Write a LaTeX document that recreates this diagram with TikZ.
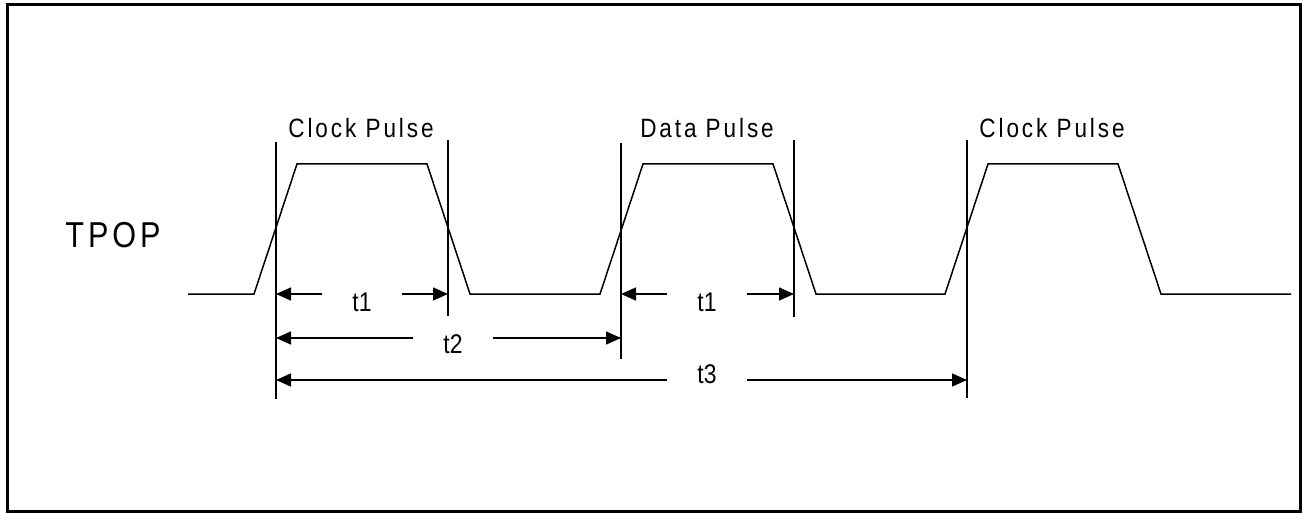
\documentclass[tikz,border=0pt]{standalone}
\usepackage{fontspec}
\setmainfont{Liberation Sans}
\newfontfamily\narrow[FakeStretch=0.85]{Liberation Sans}
\newfontfamily\spaced[FakeStretch=0.85, LetterSpace=11]{Liberation Sans}
\usetikzlibrary{arrows.meta}

\begin{document}
\begin{tikzpicture}[x = 1pt, y = -1pt, line width = 1.5pt,
    pulselabel/.style = { font = \spaced\fontsize{26.5}{30}\selectfont, inner sep = 0 },
    tlabel/.style = { font = \narrow\fontsize{27}{30}\selectfont, minimum width = 78pt, inner sep = 0 },
    dimarrow/.style = { -{Triangle[length = 15pt, width = 13pt]} }]
  \useasboundingbox (0,0) rectangle (1303,513);
  \draw [line width = 3pt] (7.5,4.5) rectangle (1300.5,511.5);

  % signal
  \draw (188,294) -- (254,294) -- (297,164) -- (427,164) -- (470,294)
    -- (600,294) -- (643,164) -- (773,164) -- (816,294)
    -- (945,294) -- (988,164) -- (1118,164) -- (1161,294) -- (1291,294);

  % timing marks
  \foreach \n/\x/\t/\b in {1/276/142/399, 2/448/140/316, 3/621/143/359, 4/794/140/317, 5/967/140/398} {
    \coordinate (top\n) at (\x,\t);
    \coordinate (bot\n) at (\x,\b);
    \draw (top\n) -- (bot\n);
  }
  \coordinate (rowa) at (0,294);
  \coordinate (rowb) at (0,338);
  \coordinate (rowc) at (0,380);

  \node [font = \spaced\fontsize{36}{40}\selectfont, inner sep = 0] (tpop) at (113,235) {TPOP};
  \node [pulselabel] (clka) at (361,128) {Clock Pulse};
  \node [pulselabel] (data) at (707,128) {Data Pulse};
  \node [pulselabel] (clkb) at (1052,128) {Clock Pulse};

  \node [tlabel] (t1a) at (362,302) {t1};
  \node [tlabel] (t1b) at (707,302) {t1};
  \node [tlabel] (t2) at (453,344) {t2};
  \node [tlabel] (t3) at (707,374) {t3};

  \draw [dimarrow] (t1a.west |- rowa) -- (top1 |- rowa);
  \draw [dimarrow] (t1a.east |- rowa) -- (top2 |- rowa);
  \draw [dimarrow] (t1b.west |- rowa) -- (top3 |- rowa);
  \draw [dimarrow] (t1b.east |- rowa) -- (top4 |- rowa);
  \draw [dimarrow] (t2.west |- rowb) -- (top1 |- rowb);
  \draw [dimarrow] (t2.east |- rowb) -- (top3 |- rowb);
  \draw [dimarrow] (t3.west |- rowc) -- (top1 |- rowc);
  \draw [dimarrow] (t3.east |- rowc) -- (top5 |- rowc);
\end{tikzpicture}
\end{document}
